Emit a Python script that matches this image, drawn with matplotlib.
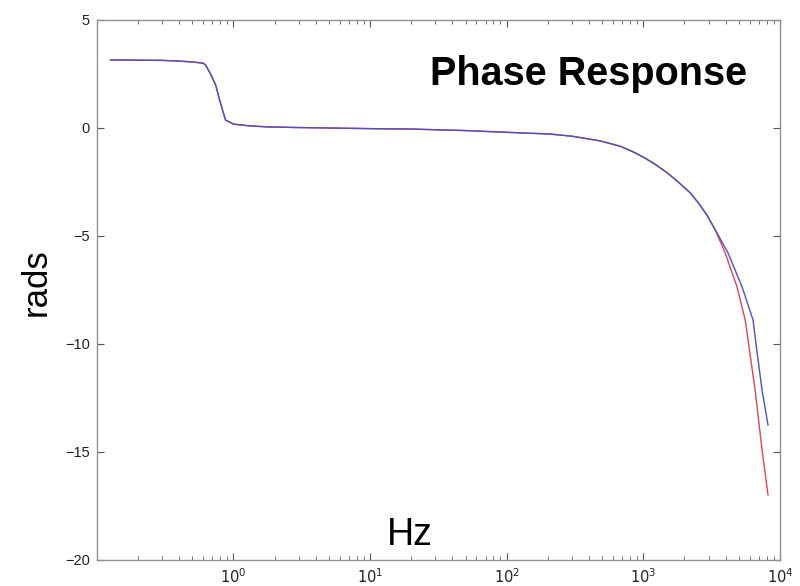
import math
import matplotlib
matplotlib.use("Agg")
import matplotlib.pyplot as plt
from matplotlib.ticker import LogLocator, FixedLocator, NullFormatter

plt.rcParams['font.family'] = ['Liberation Sans', 'DejaVu Sans']

# shared low/mid frequency part (Hz, rads)
freq_shared = [0.126, 0.2, 0.3, 0.4, 0.51, 0.6, 0.625, 0.68, 0.74, 0.8, 0.875, 1.0, 1.3, 1.78, 3, 5, 10, 20, 50,
               100, 206, 300, 485, 680, 845, 1000, 1200, 1497, 1800, 2200, 2550, 2930, 3360]
phase_shared = [3.15, 3.14, 3.13, 3.1, 3.05, 3.0, 2.92, 2.5, 2.0, 1.2, 0.37, 0.18, 0.1, 0.05, 0.02, 0.0, -0.03,
                -0.05, -0.12, -0.2, -0.28, -0.38, -0.6, -0.85, -1.11, -1.35, -1.65, -2.08, -2.5, -3.0, -3.5,
                -4.05, -4.72]

# divergent high-frequency part
freq_red = [3970, 4850, 5560, 5840, 6570, 7390, 8170]
phase_red = [-5.79, -7.36, -8.89, -9.81, -12.13, -14.9, -16.99]
freq_blue = [4170, 5280, 6350, 6800, 7390, 8170]
phase_blue = [-5.79, -7.36, -8.89, -10.4, -12.13, -13.75]

x_red = freq_shared + freq_red
y_red = phase_shared + phase_red
x_blue = freq_shared + freq_blue
y_blue = phase_shared + phase_blue

fig = plt.figure(figsize=(8.0, 5.86), dpi=100)
ax = fig.add_axes([0.121, 0.0444, 0.854, 0.9215])

ax.plot(x_red, y_red, color='#d9465a', lw=1.0)
ax.plot(x_blue, y_blue, color='#5050c0', lw=1.0)

ax.set_xscale('log')
ax.set_xlim(0.1, 1e4)
ax.set_ylim(-20, 5)
ax.xaxis.set_major_locator(FixedLocator([1, 10, 100, 1000, 10000]))
ax.xaxis.set_major_formatter(plt.FuncFormatter(lambda v, p: r'$10^{%d}$' % round(math.log10(v))))
ax.xaxis.set_minor_locator(LogLocator(base=10, subs=range(2, 10)))
ax.xaxis.set_minor_formatter(NullFormatter())
ax.set_yticks([-20, -15, -10, -5, 0, 5])
ax.set_yticklabels(['\u221220', '\u221215', '\u221210', '\u22125', '0', '5'])

for s in ax.spines.values():
    s.set_color('#909090')
    s.set_linewidth(1.0)
ax.tick_params(which='both', direction='in', top=True, right=True, color='#555555', labelsize=10.5,
               labelcolor='#222222')
ax.tick_params(which='major', length=5, width=0.8, pad=5)
ax.tick_params(which='minor', length=3, width=0.6)

ax.text(0.952, 0.88, 'Phase Response', transform=ax.transAxes, ha='right', va='baseline',
        fontsize=28.5, fontweight='bold')
fig.text(410 / 800, 1 - 545 / 586, 'Hz', ha='center', va='baseline', fontsize=27)
fig.text(36 / 800, 1 - 282 / 586, 'rads', ha='center', va='center', rotation=90, fontsize=25)

fig.savefig('out.png', dpi=100)
